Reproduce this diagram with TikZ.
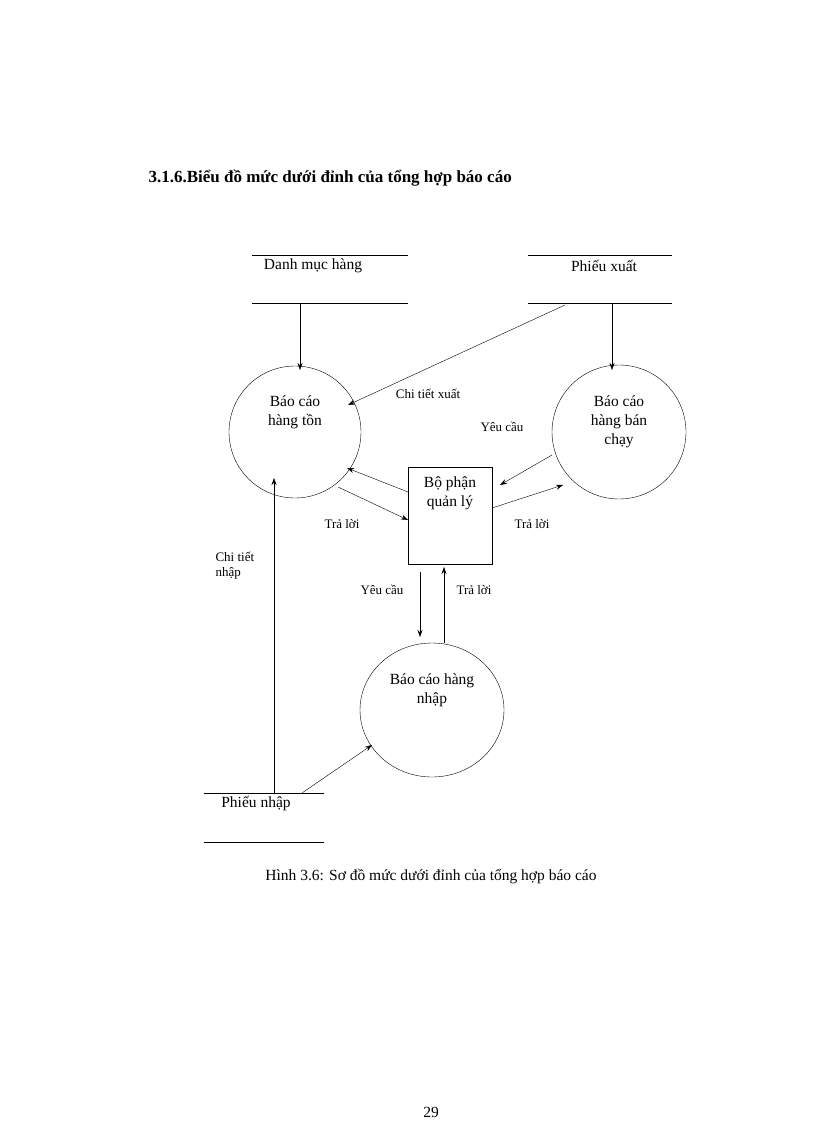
\documentclass[tikz,border=0pt]{standalone}
\usepackage{fontspec}
\setmainfont{Liberation Serif}
\usetikzlibrary{arrows.meta}
\begin{document}
\begin{tikzpicture}[x=1pt,y=-1pt,>={Stealth[length=7pt,width=5pt]},
  lbl/.style={font=\fontsize{13}{15}\selectfont},
  big/.style={font=\fontsize{15.5}{19}\selectfont},
  arr/.style={->,thin}]
\useasboundingbox (0,0) rectangle (816,1123);
\node[anchor=west,font=\bfseries\fontsize{17}{20}\selectfont] (title) at (145,178) {3.1.6.Biểu đồ mức dưới đỉnh của tổng hợp báo cáo};
% stores
\draw (252,255) -- (408,255) (252,303) -- (408,303);
\node[big] (dm) at (313,266) {Danh mục hàng};
\draw (528,255) -- (672,255) (528,303) -- (672,303);
\node[big] (px) at (604,266) {Phiếu xuất};
\draw (204,793) -- (324,793) (204,842) -- (324,842);
\node[big] (pn) at (256,804) {Phiếu nhập};
% processes
\draw (295,432) circle (66);
\node[big,align=center] (ton) at (295,412) {Báo cáo\\hàng tồn};
\draw (619,432) circle (67);
\node[big,align=center] (bc) at (619,422) {Báo cáo\\hàng bán\\chạy};
\draw (432,710) ellipse (72 and 67);
\node[big,align=center] (nh) at (432,690) {Báo cáo hàng\\nhập};
\draw (408,467) rectangle (492,564);
\node[big,align=center] (ql) at (450,493) {Bộ phận\\quản lý};
% arrows
\coordinate (a1) at (300,303); \coordinate (a2) at (300,370);
\draw[arr] (a1) -- (a2);
\coordinate (b1) at (612,303); \coordinate (b2) at (612,370);
\draw[arr] (b1) -- (b2);
\coordinate (c1) at (565,305); \coordinate (c2) at (348,405);
\draw[arr] (c1) -- (c2);
\node[lbl] (l1) at (428,394) {Chi tiết xuất};
\coordinate (d1) at (408,492); \coordinate (d2) at (347,468);
\draw[arr] (d1) -- (d2);
\coordinate (e1) at (338,487); \coordinate (e2) at (408,520);
\draw[arr] (e1) -- (e2);
\node[lbl] (l2) at (342,524) {Trả lời};
\coordinate (f1) at (552,455); \coordinate (f2) at (500,485);
\draw[arr] (f1) -- (f2);
\coordinate (g1) at (492,508); \coordinate (g2) at (563,485);
\draw[arr] (g1) -- (g2);
\node[lbl] (l3) at (502,427) {Yêu cầu};
\node[lbl] (l4) at (532,524) {Trả lời};
\coordinate (h1) at (420,572); \coordinate (h2) at (420,637);
\draw[arr] (h1) -- (h2);
\coordinate (i1) at (444,643); \coordinate (i2) at (444,567);
\draw[arr] (i1) -- (i2);
\node[lbl] (l5) at (382,590) {Yêu cầu};
\node[lbl] (l6) at (474,590) {Trả lời};
\coordinate (j1) at (274,793); \coordinate (j2) at (274,478);
\draw[arr] (j1) -- (j2);
\node[lbl,align=left,anchor=north west] (l7) at (212,549) {Chi tiết\\nhập};
\coordinate (k1) at (302,793); \coordinate (k2) at (372,745);
\draw[arr] (k1) -- (k2);
\node[big] (cap) at (431,877) {Hình 3.6: Sơ đồ mức dưới đỉnh của tổng hợp báo cáo};
\node[big] (pg) at (431,1112) {29};
\end{tikzpicture}
\end{document}
